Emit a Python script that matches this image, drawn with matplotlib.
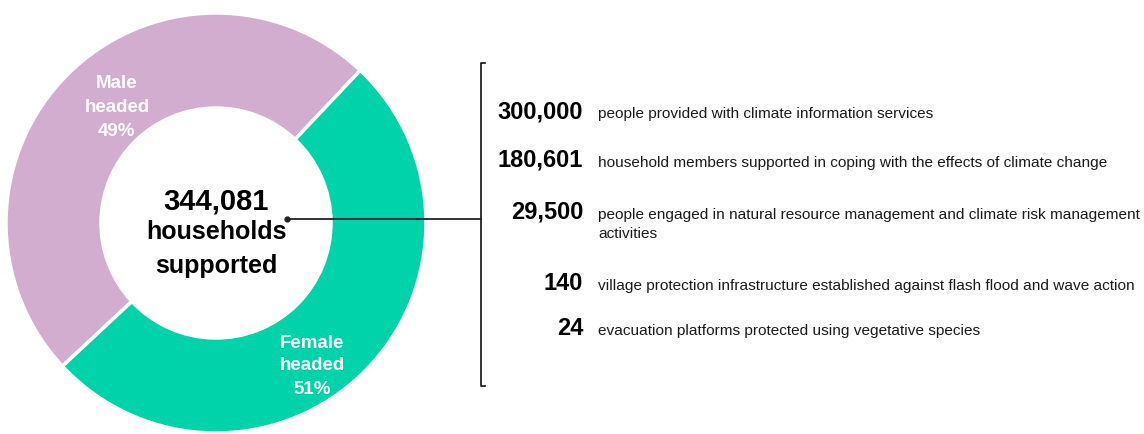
import matplotlib.pyplot as plt

# donut data
groups = ["Male\nheaded", "Female\nheaded"]
shares = [49, 51]
colors = ["#D3ADD0", "#00D2A9"]

total_households = "344,081"
center_caption = ["households", "supported"]

# results listed on the right
stat_values = ["300,000", "180,601", "29,500", "140", "24"]
stat_texts = [
    "people provided with climate information services",
    "household members supported in coping with the effects of climate change",
    "people engaged in natural resource management and climate risk management\nactivities",
    "village protection infrastructure established against flash flood and wave action",
    "evacuation platforms protected using vegetative species",
]

W, H = 1144, 434
fig = plt.figure(figsize=(W / 100, H / 100), dpi=100)
ax = fig.add_axes([0, 0, 1, 1])

cx, cy = 216, H - 223
r_out, r_in = 210, 115

ax.pie(shares, colors=colors, startangle=46.6, counterclock=True,
       radius=r_out, center=(cx, cy),
       wedgeprops=dict(width=r_out - r_in, edgecolor="white", linewidth=2.5))

bold = dict(family=["Liberation Sans", "DejaVu Sans"], fontweight="bold")

# slice labels, one line at a time
label_pos = [(117, 83, 24.5), (312, 343, 23)]
for name, share, (lx, ly, step) in zip(groups, shares, label_pos):
    lines = name.split("\n") + [f"{share}%"]
    for i, line in enumerate(lines):
        ax.text(lx, H - (ly + i * step), line, ha="center", va="center",
                color="white", fontsize=13.5, **bold)

ax.text(cx, H - 201, total_households, ha="center", va="center", fontsize=21, **bold)
for i, line in enumerate(center_caption):
    ax.text(cx, H - (232 + i * 34), line, ha="center", va="center", fontsize=18, **bold)

# connector and bracket
ax.plot([287, 481], [H - 219, H - 219], color="#222222", lw=1.3)
ax.plot([287], [H - 219], "o", color="#222222", ms=3.5)
ax.plot([485, 481, 481, 485], [H - 63, H - 63, H - 386, H - 386], color="#222222", lw=1.3)

regular = ["Liberation Sans", "DejaVu Sans"]
row_base = [118, 167, 219, 290, 335]
for val, txt, y in zip(stat_values, stat_texts, row_base):
    ax.text(583, H - y, val, ha="right", va="baseline", fontsize=17, **bold)
    for j, line in enumerate(txt.split("\n")):
        ax.text(598, H - (y + j * 19), line, ha="left", va="baseline", fontsize=11.1,
                family=regular, color="#1a1a1a")

ax.set_xlim(0, W)
ax.set_ylim(0, H)
ax.set_aspect("equal")
ax.axis("off")

fig.savefig("out.png", dpi=100)
